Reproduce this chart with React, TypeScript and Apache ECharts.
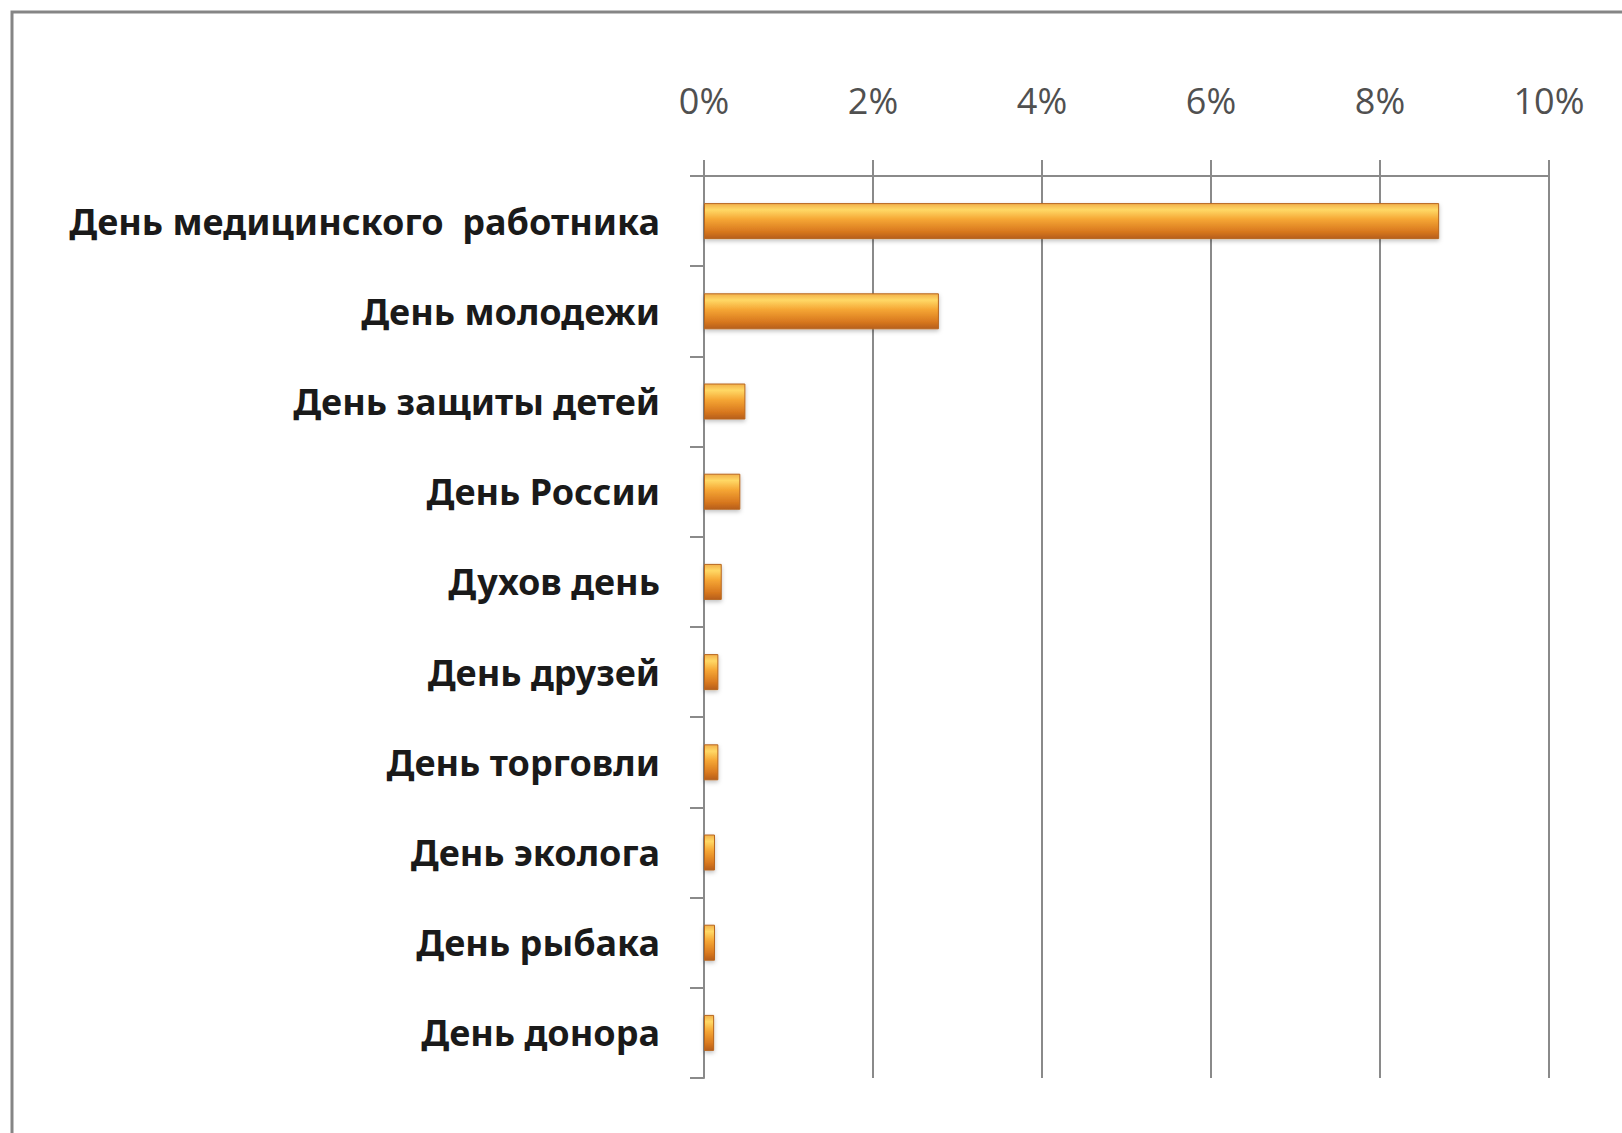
import React, { useEffect, useRef } from "react";
import * as echarts from "echarts";

const categories = [
  "День медицинского  работника",
  "День молодежи",
  "День защиты детей",
  "День России",
  "Духов день",
  "День друзей",
  "День торговли",
  "День эколога",
  "День рыбака",
  "День донора",
];
const values = [8.7, 2.78, 0.49, 0.43, 0.21, 0.17, 0.17, 0.13, 0.13, 0.12];
const tickValues = [0, 2, 4, 6, 8, 10];

export default function App() {
  const ref = useRef<HTMLDivElement>(null);
  useEffect(() => {
    if (!ref.current) return;
    const chart = echarts.init(ref.current, null, { renderer: "svg" });
    chart.setOption({
      animation: false,
      backgroundColor: "#ffffff",
      graphic: [
        {
          type: "rect",
          shape: { x: 12, y: 12, width: 1700, height: 1300 },
          style: { fill: "none", stroke: "#858585", lineWidth: 3 },
          silent: true,
        },
      ],
      grid: { left: 704, right: 73, top: 176, bottom: 55 },
      xAxis: {
        type: "value",
        position: "top",
        min: tickValues[0],
        max: tickValues[tickValues.length - 1],
        interval: 2,
        axisLine: { show: true, lineStyle: { color: "#8a8a8a", width: 2 } },
        axisTick: { show: true, length: 16, lineStyle: { color: "#8a8a8a", width: 2 } },
        splitLine: { show: true, lineStyle: { color: "#8a8a8a", width: 2 } },
        axisLabel: {
          formatter: (v: number) => v + "%",
          fontFamily: "Open Sans",
          fontSize: 36,
          color: "#505050",
          margin: 58,
        },
      },
      yAxis: {
        type: "category",
        inverse: true,
        data: categories,
        axisLine: { show: true, lineStyle: { color: "#8a8a8a", width: 2 } },
        axisTick: { show: true, length: 14, lineStyle: { color: "#8a8a8a", width: 2 } },
        axisLabel: {
          fontFamily: "Noto Sans",
          fontWeight: "bold",
          fontSize: 36,
          color: "#1a1a1a",
          margin: 44,
        },
      },
      series: [
        {
          type: "bar",
          data: values,
          barWidth: 36,
          itemStyle: {
            color: new echarts.graphic.LinearGradient(0, 0, 0, 1, [
              { offset: 0, color: "#F2B04A" },
              { offset: 0.18, color: "#FFD865" },
              { offset: 0.45, color: "#F5A634" },
              { offset: 0.8, color: "#D8781F" },
              { offset: 1, color: "#B65E1A" },
            ]),
            borderColor: "#B8661F",
            borderWidth: 1,
            shadowColor: "rgba(0,0,0,0.25)",
            shadowBlur: 4,
            shadowOffsetY: 2,
          },
        },
      ],
    });
    return () => chart.dispose();
  }, []);
  return (
    <div
      ref={ref}
      style={{ position: "absolute", left: 0, top: 0, width: 1622, height: 1133 }}
    />
  );
}
